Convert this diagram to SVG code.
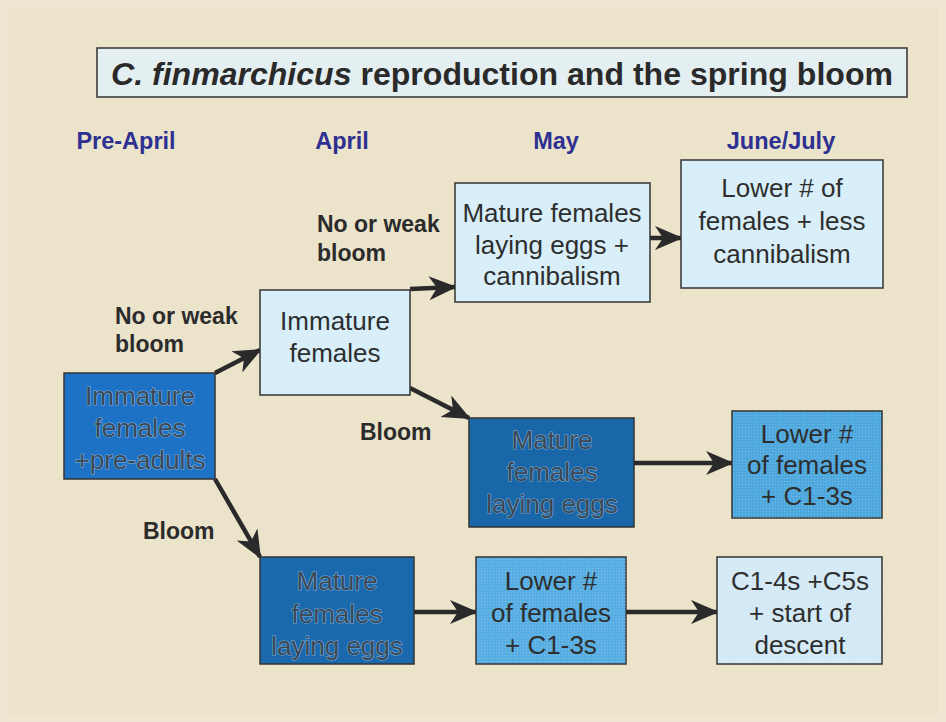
<svg xmlns="http://www.w3.org/2000/svg" width="946" height="722" viewBox="0 0 946 722">
<defs>
<marker id="ah" markerUnits="userSpaceOnUse" markerWidth="28" markerHeight="26" viewBox="0 0 28 26" refX="26" refY="13" orient="auto">
<path d="M0,1 L28,13 L0,25 L8,13 z" fill="#2a2a2a"/>
</marker>
<pattern id="dots" width="3" height="3" patternUnits="userSpaceOnUse">
<rect width="3" height="3" fill="none"/>
<circle cx="1.5" cy="1.5" r="0.6" fill="#ffffff" fill-opacity="0.25"/>
</pattern>
</defs>
<style>
.hdr{font-family:"Liberation Sans",Arial,sans-serif;font-weight:bold;font-size:23.5px;fill:#2e3192;text-anchor:middle}
.lbl{font-family:"Liberation Sans",Arial,sans-serif;font-weight:bold;font-size:23px;fill:#2b2b2b}
.box{stroke:#333;stroke-width:1.5}
.t{font-family:"Liberation Sans",Arial,sans-serif;font-size:26px;fill:#2e2e2e;text-anchor:middle}
.td{font-family:"Liberation Sans",Arial,sans-serif;font-size:26px;fill:#3a4856;text-anchor:middle;stroke:#a6c6e4;stroke-width:1.2;paint-order:stroke;stroke-opacity:0.75}
.c{fill:none;stroke:#2a2a2a;stroke-width:4.5;marker-end:url(#ah)}
</style>
<rect width="946" height="722" fill="#efe7d1"/>
<rect x="8" y="8" width="930" height="706" fill="#ece3cb"/>

<g id="title">
<rect x="97" y="48" width="810" height="49" fill="#e4eff1" stroke="#333" stroke-width="1.5"/>
<text x="111" y="85" font-family="Liberation Sans,Arial,sans-serif" font-weight="bold" font-size="31" fill="#2a2a2a" textLength="782" lengthAdjust="spacingAndGlyphs"><tspan font-style="italic">C. finmarchicus</tspan> reproduction and the spring bloom</text>
</g>

<g id="headers">
<text class="hdr" x="126" y="149">Pre-April</text>
<text class="hdr" x="342" y="149">April</text>
<text class="hdr" x="556" y="149">May</text>
<text class="hdr" x="781" y="149">June/July</text>
</g>

<g id="labels">
<text class="lbl" x="317" y="232">No or weak</text>
<text class="lbl" x="317" y="261">bloom</text>
<text class="lbl" x="115" y="324">No or weak</text>
<text class="lbl" x="115" y="352">bloom</text>
<text class="lbl" x="360" y="440">Bloom</text>
<text class="lbl" x="143" y="539">Bloom</text>
</g>

<g id="connectors">
<path class="c" d="M215,373 L260,350"/>
<path class="c" d="M410,289 L455,287"/>
<path class="c" d="M410,388 L469,418"/>
<path class="c" d="M215,479 L260,557"/>
<path class="c" d="M650,238 L681,238"/>
<path class="c" d="M634,463 L732,463"/>
<path class="c" d="M414,612 L476,612"/>
<path class="c" d="M626,612 L717,612"/>
</g>

<g id="n1">
<rect class="box" x="64" y="373" width="151" height="106" fill="#1d72c6"/>
<text class="td" x="140" y="405">Immature</text>
<text class="td" x="140" y="437">females</text>
<text class="td" x="140" y="469">+pre-adults</text>
</g>

<g id="n2">
<rect class="box" x="260" y="290" width="150" height="105" fill="#d8eef8"/>
<text class="t" x="335" y="330">Immature</text>
<text class="t" x="335" y="362">females</text>
</g>

<g id="n3">
<rect class="box" x="455" y="183" width="195" height="119" fill="#d8eef8"/>
<text class="t" x="552" y="222">Mature females</text>
<text class="t" x="552" y="254">laying eggs +</text>
<text class="t" x="552" y="285">cannibalism</text>
</g>

<g id="n4">
<rect class="box" x="681" y="160" width="202" height="128" fill="#d8eef8"/>
<text class="t" x="782" y="197">Lower # of</text>
<text class="t" x="782" y="230">females + less</text>
<text class="t" x="782" y="263">cannibalism</text>
</g>

<g id="n5">
<rect class="box" x="469" y="418" width="165" height="109" fill="#1966a8"/>
<text class="td" x="552" y="449">Mature</text>
<text class="td" x="552" y="481">females</text>
<text class="td" x="552" y="513">laying eggs</text>
</g>

<g id="n6">
<rect class="box" x="732" y="411" width="150" height="107" fill="#4ea8de"/>
<rect x="732" y="411" width="150" height="107" fill="url(#dots)"/>
<text class="t" x="807" y="443">Lower #</text>
<text class="t" x="807" y="474">of females</text>
<text class="t" x="807" y="505">+ C1-3s</text>
</g>

<g id="n7">
<rect class="box" x="260" y="557" width="154" height="107" fill="#1a69ad"/>
<text class="td" x="337" y="590">Mature</text>
<text class="td" x="337" y="623">females</text>
<text class="td" x="337" y="655">laying eggs</text>
</g>

<g id="n8">
<rect class="box" x="476" y="557" width="150" height="107" fill="#58aee2"/>
<rect x="476" y="557" width="150" height="107" fill="url(#dots)"/>
<text class="t" x="551" y="590">Lower #</text>
<text class="t" x="551" y="622">of females</text>
<text class="t" x="551" y="654">+ C1-3s</text>
</g>

<g id="n9">
<rect class="box" x="717" y="557" width="165" height="107" fill="#d3e9f6"/>
<rect x="717" y="557" width="165" height="107" fill="url(#dots)"/>
<text class="t" x="800" y="590">C1-4s +C5s</text>
<text class="t" x="800" y="622">+ start of</text>
<text class="t" x="800" y="654">descent</text>
</g>
</svg>
